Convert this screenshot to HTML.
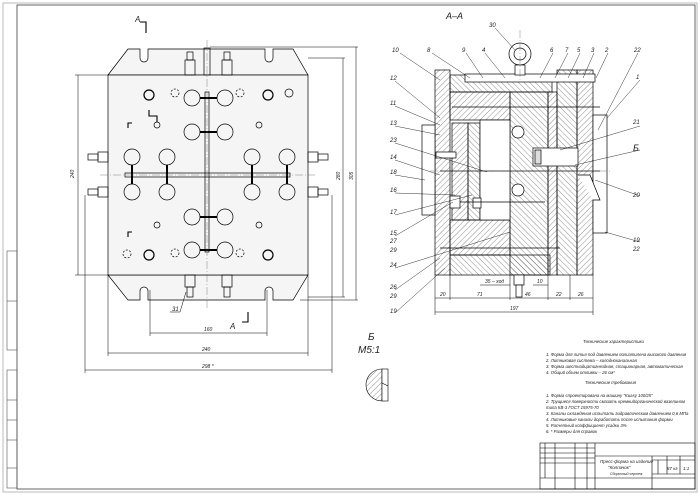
<!DOCTYPE html>
<html><head><meta charset="utf-8"><style>
html,body{margin:0;padding:0;background:#fff}
svg{display:block}
text{font-family:"Liberation Sans",sans-serif;font-style:italic;fill:#222}
</style></head><body>
<svg width="700" height="495" viewBox="0 0 700 495" xmlns="http://www.w3.org/2000/svg">
<defs>
<pattern id="h" width="4" height="4" patternUnits="userSpaceOnUse" patternTransform="rotate(45)"><line x1="0" y1="0" x2="0" y2="4" stroke="#444" stroke-width="0.6"/></pattern>
<pattern id="h2" width="4" height="4" patternUnits="userSpaceOnUse" patternTransform="rotate(-45)"><line x1="0" y1="0" x2="0" y2="4" stroke="#444" stroke-width="0.6"/></pattern>
</defs>
<rect x="0" y="0" width="700" height="495" fill="#fff"/>
<rect x="3" y="3" width="694" height="489" fill="none" stroke="#aaa" stroke-width="0.8"/>
<rect x="17" y="5" width="678" height="484" fill="none" stroke="#555" stroke-width="0.9"/>
<g fill="none" stroke="#555" stroke-width="0.6">
<rect x="7" y="251" width="10" height="99"/><line x1="7" y1="301" x2="17" y2="301"/>
<rect x="7" y="370" width="10" height="118"/><line x1="7" y1="400" x2="17" y2="400"/><line x1="7" y1="420" x2="17" y2="420"/><line x1="7" y1="440" x2="17" y2="440"/><line x1="7" y1="468" x2="17" y2="468"/>
</g>
<g stroke="#000" stroke-width="0.7" fill="none">
<path d="M108 75 L128 49 L140 49 L140 58 A4 4 0 0 0 148 58 L148 49 L265 49 L265 58 A4 4 0 0 0 273 58 L273 49 L293 49 L308 75 Z" fill="#f5f5f5"/>
<path d="M108 275 L128 300 L140 300 L140 291 A4 4 0 0 1 148 291 L148 300 L265 300 L265 291 A4 4 0 0 1 273 291 L273 300 L293 300 L308 275 Z" fill="#f5f5f5"/>
<rect x="108" y="75" width="200" height="200" fill="#f5f5f5"/>
<rect x="204" y="48" width="6" height="27"/>
<rect x="185" y="60" width="10" height="15"/><rect x="222" y="60" width="10" height="15"/>
<rect x="187" y="52" width="6" height="8"/><rect x="224" y="52" width="6" height="8"/>
<rect x="185" y="275" width="10" height="12"/><rect x="222" y="275" width="10" height="12"/>
<rect x="187" y="287" width="6" height="10"/><rect x="224" y="287" width="6" height="10"/>
<rect x="98" y="152" width="10" height="10"/><rect x="88" y="154" width="10" height="6"/>
<rect x="98" y="187" width="10" height="10"/><rect x="88" y="189" width="10" height="6"/>
<rect x="308" y="152" width="10" height="10"/><rect x="318" y="154" width="10" height="6"/>
<rect x="308" y="187" width="10" height="10"/><rect x="318" y="189" width="10" height="6"/>
<rect x="205" y="92" width="4" height="160"/>
<rect x="125" y="173" width="165" height="4"/>
<line x1="192" y1="98" x2="225" y2="98" stroke-width="2"/><line x1="192" y1="132" x2="225" y2="132" stroke-width="2"/>
<line x1="192" y1="217" x2="225" y2="217" stroke-width="2"/><line x1="192" y1="250" x2="225" y2="250" stroke-width="2"/>
<line x1="132" y1="157" x2="132" y2="192" stroke-width="2"/><line x1="167" y1="157" x2="167" y2="192" stroke-width="2"/>
<line x1="252" y1="157" x2="252" y2="192" stroke-width="2"/><line x1="287" y1="157" x2="287" y2="192" stroke-width="2"/>
<g fill="#f5f5f5">
<circle cx="192" cy="98" r="8"/><circle cx="225" cy="98" r="8"/>
<circle cx="192" cy="132" r="8"/><circle cx="225" cy="132" r="8"/>
<circle cx="132" cy="157" r="8"/><circle cx="167" cy="157" r="8"/><circle cx="252" cy="157" r="8"/><circle cx="287" cy="157" r="8"/>
<circle cx="132" cy="192" r="8"/><circle cx="167" cy="192" r="8"/><circle cx="252" cy="192" r="8"/><circle cx="287" cy="192" r="8"/>
<circle cx="192" cy="217" r="8"/><circle cx="225" cy="217" r="8"/>
<circle cx="192" cy="250" r="8"/><circle cx="225" cy="250" r="8"/>
</g>
<circle cx="149" cy="95" r="5" stroke-width="1.2"/><circle cx="268" cy="95" r="5" stroke-width="1.2"/>
<circle cx="149" cy="255" r="5" stroke-width="1.2"/><circle cx="268" cy="255" r="5" stroke-width="1.2"/>
<circle cx="157" cy="125" r="3"/><circle cx="259" cy="125" r="3"/><circle cx="157" cy="225" r="3"/><circle cx="259" cy="225" r="3"/>
<circle cx="289" cy="93" r="4"/>
<g stroke-dasharray="2 1.5"><circle cx="175" cy="93" r="4"/><circle cx="240" cy="93" r="4"/><circle cx="175" cy="253" r="4"/><circle cx="240" cy="253" r="4"/><circle cx="127" cy="254" r="4"/></g>
<path d="M149 110 L149 116 L157 116 L157 122" stroke-width="1.1"/>
<path d="M128 128 L128 123 L132 123" stroke-width="1.1"/>
<path d="M128 237 L128 232 L132 232" stroke-width="1.1"/>
<g stroke="#666" stroke-width="0.4" stroke-dasharray="8 2 1 2">
<line x1="207" y1="40" x2="207" y2="310"/><line x1="100" y1="175" x2="315" y2="175"/>
</g>
<g stroke-width="0.5">
<line x1="75" y1="75" x2="108" y2="75"/><line x1="75" y1="275" x2="108" y2="275"/><line x1="78" y1="75" x2="78" y2="275"/>
<line x1="308" y1="58" x2="345" y2="58"/><line x1="308" y1="297" x2="345" y2="297"/><line x1="343" y1="58" x2="343" y2="297"/>
<line x1="210" y1="47" x2="358" y2="47"/><line x1="300" y1="300" x2="358" y2="300"/><line x1="356" y1="47" x2="356" y2="300"/>
<line x1="150" y1="290" x2="150" y2="336"/><line x1="267" y1="290" x2="267" y2="336"/><line x1="150" y1="333" x2="267" y2="333"/>
<line x1="108" y1="275" x2="108" y2="356"/><line x1="308" y1="275" x2="308" y2="356"/><line x1="108" y1="353" x2="308" y2="353"/>
<line x1="85" y1="195" x2="85" y2="373"/><line x1="332" y1="195" x2="332" y2="373"/><line x1="85" y1="370" x2="332" y2="370"/>
<line x1="186" y1="292" x2="180" y2="312"/><line x1="180" y1="312" x2="170" y2="312"/>
</g>
<path d="M140 22 L146 22 L146 33" stroke-width="1.1"/>
<path d="M242 322 L248 322 L248 312" stroke-width="1.1"/>
</g>
<g font-size="7">
<text x="135" y="22" font-size="8">A</text><text x="230" y="329" font-size="8">A</text>
<text x="172" y="311" font-size="6">31</text>
<text x="204" y="331" font-size="5">160</text><text x="202" y="351" font-size="5">240</text><text x="202" y="368" font-size="5">298 *</text>
<text x="74" y="178" font-size="5" transform="rotate(-90 74 178)">240</text>
<text x="340" y="180" font-size="5" transform="rotate(-90 340 180)">280</text>
<text x="353" y="180" font-size="5" transform="rotate(-90 353 180)">305</text>
</g>

<text x="446" y="19" font-size="9">А–А</text>
<g stroke="#000" stroke-width="0.7">
<rect x="435" y="70" width="15" height="205" fill="url(#h)"/>
<rect x="450" y="75" width="102" height="17" fill="url(#h2)"/>
<rect x="450" y="92" width="60" height="28" fill="url(#h)"/>
<rect x="510" y="92" width="38" height="183" fill="url(#h2)"/>
<rect x="450" y="220" width="60" height="35" fill="url(#h)"/>
<rect x="450" y="255" width="100" height="20" fill="url(#h2)"/>
<rect x="452" y="123" width="16" height="97" fill="url(#h)"/>
<rect x="468" y="123" width="12" height="97" fill="url(#h2)"/>
<rect x="480" y="120" width="30" height="100" fill="#fff"/>
<rect x="548" y="92" width="9" height="183" fill="url(#h)"/>
<rect x="557" y="70" width="20" height="205" fill="url(#h2)"/>
<rect x="577" y="70" width="16" height="205" fill="url(#h)"/>
<rect x="593" y="115" width="14" height="118" fill="#fff"/>
<rect x="422" y="125" width="13" height="90" fill="#fff"/>
<rect x="465" y="74" width="130" height="8" fill="#fff"/>
<rect x="533" y="148" width="45" height="18" fill="#fff"/>
<rect x="535" y="150" width="6" height="14" fill="#ddd"/>
<line x1="440" y1="171" x2="600" y2="171"/>
<rect x="436" y="152" width="20" height="6" fill="#fff"/>
<rect x="450" y="196" width="10" height="12" fill="#fff"/><rect x="473" y="198" width="8" height="10" fill="#fff"/>
<line x1="460" y1="202" x2="545" y2="202"/>
<line x1="452" y1="107" x2="600" y2="107"/>
<line x1="440" y1="248" x2="560" y2="248"/>
<circle cx="518" cy="132" r="6" fill="#fff"/><circle cx="518" cy="190" r="6" fill="#fff"/>
<circle cx="520" cy="54" r="11" fill="#fff"/><circle cx="520" cy="54" r="6" fill="#fff"/>
<rect x="515" y="65" width="10" height="10" fill="#fff"/>
<rect x="514" y="275" width="10" height="10" fill="#fff"/><rect x="516" y="285" width="6" height="12" fill="#fff"/>
<path d="M578 175 L590 175 L600 200 L593 200" fill="#fff"/>
</g>
<g stroke="#666" stroke-width="0.4" stroke-dasharray="8 2 1 2" fill="none">
<line x1="430" y1="171" x2="610" y2="171"/><line x1="520" y1="30" x2="520" y2="80"/>
</g>
<g stroke="#000" stroke-width="0.5">
<line x1="435" y1="275" x2="435" y2="315"/><line x1="593" y1="275" x2="593" y2="315"/>
<line x1="435" y1="312" x2="593" y2="312"/><line x1="435" y1="298" x2="593" y2="298"/>
<line x1="450" y1="275" x2="450" y2="300"/><line x1="510" y1="275" x2="510" y2="300"/><line x1="548" y1="275" x2="548" y2="300"/><line x1="570" y1="275" x2="570" y2="300"/>
<line x1="480" y1="285" x2="510" y2="285"/><line x1="533" y1="285" x2="548" y2="285"/>
</g>
<g font-size="5">
<text x="440" y="296">20</text><text x="477" y="296">71</text><text x="525" y="296">46</text><text x="556" y="296">22</text><text x="578" y="296">26</text><text x="510" y="310">197</text>
<text x="485" y="283">35 – ход</text><text x="537" y="283">10</text>
</g>
<g stroke="#000" stroke-width="0.4">
<line x1="400" y1="53" x2="440" y2="80"/><line x1="432" y1="53" x2="470" y2="78"/><line x1="466" y1="53" x2="483" y2="78"/>
<line x1="485" y1="53" x2="505" y2="78"/><line x1="495" y1="28" x2="515" y2="50"/><line x1="553" y1="53" x2="540" y2="78"/>
<line x1="568" y1="53" x2="555" y2="78"/><line x1="580" y1="53" x2="568" y2="78"/><line x1="594" y1="53" x2="583" y2="78"/><line x1="608" y1="53" x2="596" y2="78"/>
<line x1="638" y1="53" x2="598" y2="130"/><line x1="640" y1="80" x2="607" y2="118"/><line x1="640" y1="126" x2="560" y2="150"/>
<line x1="640" y1="150" x2="575" y2="165"/><line x1="640" y1="196" x2="595" y2="180"/><line x1="640" y1="242" x2="605" y2="232"/>
<line x1="395" y1="81" x2="440" y2="118"/><line x1="395" y1="106" x2="440" y2="125"/><line x1="395" y1="126" x2="440" y2="135"/>
<line x1="395" y1="143" x2="487" y2="172"/><line x1="395" y1="160" x2="440" y2="175"/><line x1="395" y1="175" x2="425" y2="180"/>
<line x1="395" y1="193" x2="455" y2="195"/><line x1="395" y1="215" x2="472" y2="195"/><line x1="395" y1="236" x2="453" y2="202"/>
<line x1="395" y1="268" x2="510" y2="232"/><line x1="395" y1="290" x2="440" y2="258"/><line x1="395" y1="313" x2="445" y2="268"/>
</g>
<g font-size="6">
<text x="392" y="52">10</text><text x="427" y="52">8</text><text x="462" y="52">9</text><text x="482" y="52">4</text><text x="489" y="27">30</text>
<text x="550" y="52">6</text><text x="565" y="52">7</text><text x="577" y="52">5</text><text x="591" y="52">3</text><text x="605" y="52">2</text><text x="634" y="52">22</text>
<text x="636" y="79">1</text><text x="633" y="124">21</text><text x="633" y="197">20</text><text x="633" y="242">19</text><text x="633" y="251">22</text>
<text x="390" y="80">12</text><text x="390" y="105">11</text><text x="390" y="125">13</text><text x="390" y="142">23</text><text x="390" y="159">14</text>
<text x="390" y="174">18</text><text x="390" y="192">16</text><text x="390" y="214">17</text><text x="390" y="235">15</text><text x="390" y="243">27</text><text x="390" y="252">29</text>
<text x="390" y="267">24</text><text x="390" y="289">26</text><text x="390" y="298">29</text><text x="390" y="313">19</text>
</g>
<text x="633" y="151" font-size="9" font-style="normal">Б</text>
<text x="368" y="340" font-size="10">Б</text><text x="358" y="353" font-size="10">M5:1</text>
<path d="M382 369 A16 16 0 0 0 382 401 Z" fill="url(#h)" stroke="#000" stroke-width="0.6"/>
<rect x="382" y="369" width="6" height="32" fill="#fff" stroke="#000" stroke-width="0.6"/>
<line x1="382" y1="383" x2="388" y2="386" stroke="#000" stroke-width="0.6"/>
<g font-size="4.3">
<text x="583" y="343">Технические характеристики</text>
<text x="546" y="356">1. Форма для литья под давлением полиэтилена высокого давления</text>
<text x="546" y="362">2. Литниковая система – холодноканальная</text>
<text x="546" y="368">3. Форма шестнадцатигнездная, стационарная, автоматическая</text>
<text x="546" y="374">4. Общий объем отливки – 26 см³</text>
<text x="585" y="384">Технические требования</text>
<text x="546" y="397">1. Форма спроектирована на машину "Kuasy 100/25"</text>
<text x="546" y="403">2. Трущиеся поверхности смазать кремнийорганической вазелином</text>
<text x="546" y="409">типа КВ-3 ГОСТ 15975-70</text>
<text x="546" y="415">3. Каналы охлаждения испытать гидравлическим давлением 0,6 МПа</text>
<text x="546" y="421">4. Литниковые каналы доработать после испытания формы</text>
<text x="546" y="427">5. Расчетный коэффициент усадки 3%</text>
<text x="546" y="433">6. * Размеры для справок</text>
</g>
<g stroke="#000" stroke-width="0.6" fill="none">
<rect x="540" y="443" width="155" height="46"/>
<line x1="595" y1="443" x2="595" y2="489"/>
<line x1="540" y1="448" x2="595" y2="448"/><line x1="540" y1="453" x2="595" y2="453"/><line x1="540" y1="458" x2="595" y2="458"/><line x1="540" y1="463" x2="595" y2="463"/>
<line x1="540" y1="478" x2="695" y2="478"/><line x1="595" y1="456" x2="695" y2="456"/>
<line x1="545" y1="443" x2="545" y2="478"/><line x1="555" y1="443" x2="555" y2="489"/><line x1="575" y1="443" x2="575" y2="489"/><line x1="587" y1="443" x2="587" y2="489"/>
<line x1="652" y1="456" x2="652" y2="489"/><line x1="652" y1="460" x2="695" y2="460"/><line x1="652" y1="474" x2="695" y2="474"/>
<line x1="667" y1="456" x2="667" y2="474"/><line x1="680" y1="456" x2="680" y2="474"/><line x1="658" y1="460" x2="658" y2="474"/>
</g>
<g font-size="4.5">
<text x="600" y="463">Пресс-форма на изделие</text><text x="608" y="469">"Колпачок"</text><text x="610" y="475" font-size="3.5">Сборочный чертеж</text>
<text x="667" y="470">87 кг</text><text x="683" y="470">1:1</text>
</g>
</svg>
</body></html>
